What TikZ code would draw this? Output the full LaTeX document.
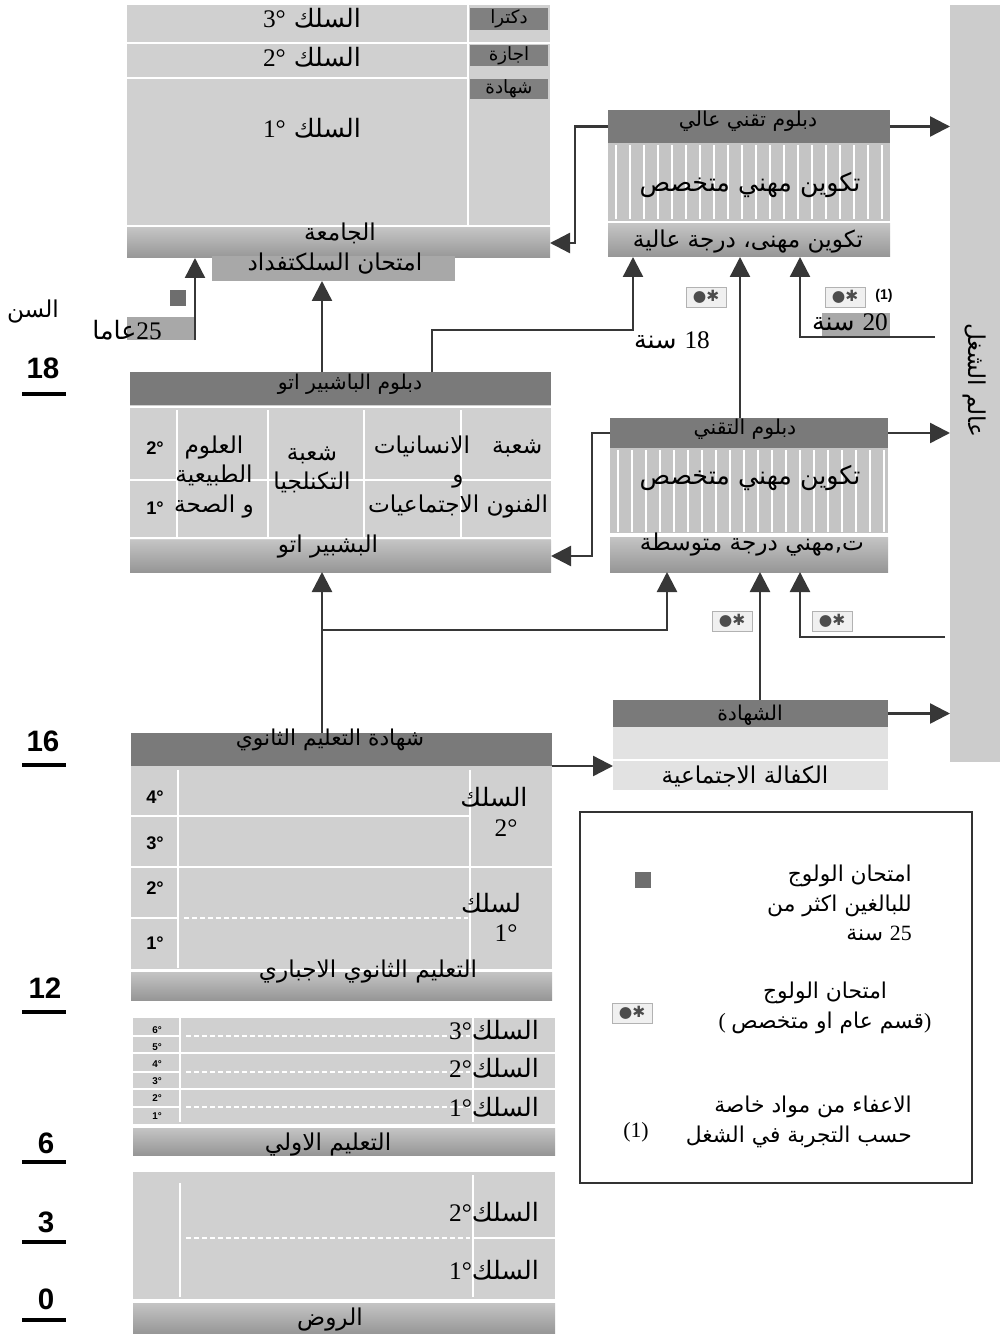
\documentclass[tikz,border=0pt]{standalone}
\usepackage{fontspec}
\setmainfont{Liberation Serif}
\newfontfamily\arabicfont[Script=Arabic]{DejaVu Sans}
\newfontfamily\agefont{Liberation Sans}
\newfontfamily\iconfont{DejaVu Sans}
\TeXXeTstate=1
\usetikzlibrary{positioning, fit, arrows.meta}
\usepackage{xcolor}

\definecolor{bodygray}{RGB}{208,208,208}
\definecolor{headgray}{RGB}{122,122,122}
\definecolor{taggray}{RGB}{128,128,128}
\definecolor{bandtop}{RGB}{196,196,196}
\definecolor{bandbot}{RGB}{150,150,150}
\definecolor{examgray}{RGB}{168,168,168}
\definecolor{stripegray}{RGB}{196,196,196}
\definecolor{workgray}{RGB}{204,204,204}
\definecolor{certgray}{RGB}{226,226,226}
\definecolor{linegray}{RGB}{55,55,55}
\definecolor{sqgray}{RGB}{110,110,110}

\newcommand{\ar}[1]{{\arabicfont\beginR #1\endR}}
\newcommand{\lat}[1]{\beginL{\rmfamily #1}\endL}

\begin{document}
\begin{tikzpicture}[
    x=0.25mm, y=-0.25mm,
    blk/.style={inner sep=0pt, outer sep=0pt},
    body/.style={blk, fill=bodygray},
    head/.style={blk, fill=headgray},
    band/.style={blk, top color=bandtop, bottom color=bandbot},
    tag/.style={blk, fill=taggray},
    smallbox/.style={blk, fill=examgray},
    sep/.style={white, line width=0.7mm},
    dsep/.style={white, line width=0.6mm, dash pattern=on 1.2mm off 0.8mm},
    stripe/.style={white, line width=0.45mm},
    conn/.style={draw=linegray, line width=0.6mm, -{Triangle[length=5mm, width=5mm]}},
    lbl/.style={font=\fontsize{16.5}{21}\selectfont, inner sep=0pt},
    biglbl/.style={font=\fontsize{18}{22}\selectfont, inner sep=0pt},
    leglbl/.style={font=\fontsize{15.5}{21}\selectfont, inner sep=0pt},
    hlbl/.style={font=\fontsize{14.5}{17}\selectfont, inner sep=0pt},
    taglbl/.style={font=\fontsize{13}{15}\selectfont, inner sep=0pt},
    deg/.style={font=\agefont\bfseries\fontsize{13}{15}\selectfont, inner sep=0pt},
    tinydeg/.style={font=\agefont\bfseries\fontsize{7}{8}\selectfont, inner sep=0pt},
    age/.style={font=\agefont\bfseries\fontsize{21}{24}\selectfont, inner sep=0pt},
    agebar/.style={line width=1mm},
    icon/.style={draw=gray!60, fill=gray!12, inner sep=1pt, minimum width=10mm, minimum height=5mm, font=\iconfont\fontsize{11}{12}\selectfont, text=black!70}
]
\useasboundingbox (0,0) rectangle (1004,1334);

% Age scale
\node[lbl] (agehdr) at (33,312) {\ar{السن}};
\node[age] (a18) at (43,368) {18};
\node[age] (a16) at (43,741) {16};
\node[age] (a12) at (45,988) {12};
\node[age] (a6) at (46,1143) {6};
\node[age] (a3) at (46,1222) {3};
\node[age] (a0) at (46,1299) {0};
\foreach \y in {394,765,1012,1162,1242,1320}
  \draw[agebar] (22,\y) -- (66,\y);

% University
\node[body, fit={(127,5) (550,226)}] (unibody) {};
\draw[sep] (127,43) -- (550,43);
\draw[sep] (127,78) -- (468,78);
\draw[sep] (468,5) -- (468,226);
\draw[sep] (127,226) -- (550,226);
\node[tag, fit={(470,8) (548,30)}] (doctag) {};
\node[tag, fit={(470,45) (548,66)}] (lictag) {};
\node[tag, fit={(470,79) (548,99)}] (certtag) {};
\node[taglbl] (doclbl) at (doctag) {\ar{دكترا}};
\node[taglbl] (liclbl) at (lictag) {\ar{اجازة}};
\node[taglbl] (certlbl) at (certtag) {\ar{شهادة}};
\node[biglbl] (u3) at (312,18) {\ar{السلك \lat{3°}}};
\node[biglbl] (u2) at (312,57) {\ar{السلك \lat{2°}}};
\node[biglbl] (u1) at (312,128) {\ar{السلك \lat{1°}}};
\node[band, fit={(127,228) (550,258)}] (uniband) {};
\node[smallbox, fit={(212,256) (455,281)}] (exambox) {};
\node[lbl] (unilbl) at (340,233) {\ar{الجامعة}};
\node[lbl] (examlbl) at (335,264) {\ar{امتحان السلكتفداد}};

% Adults over 25
\node[smallbox, fit={(127,317) (195,340)}] (box25) {};
\node[blk, fill=sqgray, minimum size=4mm] (sq25) at (178,298) {};
\node[biglbl] (lbl25) at (127,330) {\ar{\lat{25}عاما}};

% Higher technician
\node[head, fit={(608,110) (890,143)}] (hthead) {};
\node[blk, fill=stripegray, fit={(608,143) (890,221)}] (htbody) {};
\foreach \x in {616,630,...,882}
  \draw[stripe] (\x,145) -- (\x,219);
\draw[sep] (608,222) -- (890,222);
\node[band, fit={(608,224) (890,257)}] (htband) {};
\node[hlbl] (htlbl) at (748,121) {\ar{دبلوم تقني عالي}};
\node[biglbl] (htspec) at (750,185) {\ar{تكوين مهني متخصص}};
\node[lbl] (htlevel) at (748,242) {\ar{تكوين مهنى، درجة عالية}};

% Technician
\node[head, fit={(610,418) (888,448)}] (techhead) {};
\node[blk, fill=stripegray, fit={(610,448) (888,533)}] (techbody) {};
\foreach \x in {618,632,...,884}
  \draw[stripe] (\x,450) -- (\x,532);
\draw[sep] (610,535) -- (888,535);
\node[band, fit={(610,537) (888,572)}] (techband) {};
\node[hlbl] (techlbl) at (745,429) {\ar{دبلوم التقني}};
\node[biglbl] (techspec) at (750,478) {\ar{تكوين مهني متخصص}};
\node[lbl] (techlevel) at (752,545) {\ar{ت,مهني درجة متوسطة}};

% World of work
\node[blk, fill=workgray, fit={(950,5) (1000,762)}] (work) {};
\node[lbl, rotate=-90] (worklbl) at (975,380) {\ar{عالم الشغل}};

% Baccalaureate
\node[head, fit={(130,372) (551,405)}] (bachead) {};
\node[body, fit={(130,405) (551,540)}] (bacbody) {};
\draw[sep] (130,407) -- (551,407);
\draw[sep] (130,480) -- (551,480);
\foreach \x in {177,268,364,461}
  \draw[sep] (\x,410) -- (\x,538);
\draw[sep] (130,538) -- (551,538);
\node[band, fit={(130,540) (551,572)}] (bacband) {};
\node[hlbl] (baclbl) at (350,384) {\ar{دبلوم الباشبير اتو}};
\node[lbl] (bacbandlbl) at (328,547) {\ar{البشبير اتو}};
\node[deg] (b2) at (155,448) {2°};
\node[deg] (b1) at (155,508) {1°};
\node[lbl, align=center] (scistream) at (214,477) {\ar{العلوم}\\\ar{الطبيعية}\\\ar{و الصحة}};
\node[lbl, align=center] (techstream) at (312,470) {\ar{شعبة}\\\ar{التكنلجيا}};
\node[lbl, align=center] (artstream) at (458,477) {\ar{شعبة \ \ الانسانيات}\\\ar{و}\\\ar{الفنون الاجتماعيات}};

% Certificate
\node[head, fit={(613,700) (888,727)}] (certhead) {};
\node[blk, fill=certgray, fit={(613,727) (888,790)}] (certbody) {};
\draw[sep] (613,760) -- (888,760);
\node[hlbl] (certheadlbl) at (750,715) {\ar{الشهادة}};
\node[lbl] (certbodylbl) at (745,776) {\ar{الكفالة الاجتماعية}};

% Secondary
\node[head, fit={(131,733) (552,766)}] (sechead) {};
\node[body, fit={(131,766) (552,970)}] (secbody) {};
\draw[sep] (178,770) -- (178,968);
\draw[sep] (470,770) -- (470,968);
\draw[sep] (131,816) -- (470,816);
\draw[sep] (131,867) -- (552,867);
\draw[sep] (131,918) -- (178,918);
\draw[dsep] (184,918) -- (468,918);
\draw[sep] (131,970) -- (552,970);
\node[band, fit={(131,972) (552,1000)}] (secband) {};
\node[font=\fontsize{15.5}{18}\selectfont, inner sep=0pt] (seclbl) at (330,740) {\ar{شهادة التعليم الثانوي}};
\node[lbl] (secbandlbl) at (368,972) {\ar{التعليم الثانوي الاجباري}};
\node[deg] (s4) at (155,797) {4°};
\node[deg] (s3) at (155,843) {3°};
\node[deg] (s2) at (155,888) {2°};
\node[deg] (s1) at (155,943) {1°};
\node[biglbl] (sc2) at (494,797) {\ar{السلك}};
\node[biglbl] (sc2n) at (506,828) {2°};
\node[biglbl] (sc1) at (491,903) {\ar{لسلك}};
\node[biglbl] (sc1n) at (506,933) {1°};

% Primary
\node[body, fit={(133,1018) (555,1125)}] (primbody) {};
\draw[sep] (180,1018) -- (180,1122);
\draw[sep] (473,1018) -- (473,1122);
\foreach \y in {1053,1089}
  \draw[sep] (133,\y) -- (555,\y);
\foreach \y in {1036,1072,1107} {
  \draw[sep] (133,\y) -- (180,\y);
  \draw[dsep] (186,\y) -- (470,\y);
}
\draw[sep] (133,1125) -- (555,1125);
\node[band, fit={(133,1128) (555,1155)}] (primband) {};
\node[lbl] (primlbl) at (328,1145) {\ar{التعليم الاولي}};
\foreach \n/\y in {6/1030,5/1047,4/1064,3/1081,2/1098,1/1116}
  \node[tinydeg] (p\n) at (157,\y) {\n°};
\node[biglbl] (pc3) at (494,1030) {\ar{السلك\lat{3°}}};
\node[biglbl] (pc2) at (494,1068) {\ar{السلك\lat{2°}}};
\node[biglbl] (pc1) at (494,1107) {\ar{السلك\lat{1°}}};

% Kindergarten
\node[body, fit={(133,1172) (555,1300)}] (kgbody) {};
\draw[sep] (180,1183) -- (180,1297);
\draw[sep] (473,1175) -- (473,1297);
\draw[dsep] (186,1238) -- (470,1238);
\draw[sep] (473,1238) -- (555,1238);
\draw[sep] (133,1300) -- (555,1300);
\node[band, fit={(133,1303) (555,1334)}] (kgband) {};
\node[lbl] (kglbl) at (330,1320) {\ar{الروض}};
\node[biglbl] (kc2) at (494,1212) {\ar{السلك\lat{2°}}};
\node[biglbl] (kc1) at (494,1270) {\ar{السلك\lat{1°}}};

% Entry exams and ages
\node[icon] (ic1) at (706,297) {●✱};
\node[icon] (ic2) at (845,297) {●✱};
\node[deg, font=\agefont\bfseries\fontsize{10}{12}\selectfont] (ic2note) at (884,296) {(1)};
\node[smallbox, fit={(822,313) (890,338)}] (box20) {};
\node[biglbl] (lbl20) at (850,322) {\ar{\lat{20} سنة}};
\node[biglbl] (lbl18) at (672,340) {\ar{\lat{18} سنة}};
\node[icon] (ic3) at (732,621) {●✱};
\node[icon] (ic4) at (832,621) {●✱};

% Legend
\node[draw=black!80, line width=0.35mm, blk, fit={(580,812) (972,1183)}] (legend) {};
\node[blk, fill=sqgray, minimum size=4mm] (legsq) at (643,880) {};
\node[leglbl, align=right, anchor=east] (legsqtxt) at (912,903) {\ar{امتحان الولوج}\\\ar{للبالغين اكثر من}\\\ar{\lat{25} سنة}};
\node[icon] (legicon) at (632,1013) {●✱};
\node[leglbl, align=center] (legicontxt) at (825,1008) {\ar{امتحان الولوج}\\( \ar{قسم عام او متخصص})};
\node[leglbl] (legnote) at (636,1132) {(1)};
\node[leglbl, align=right, anchor=east] (legnotetxt) at (912,1122) {\ar{الاعفاء من مواد خاصة}\\\ar{حسب التجربة في الشغل}};

% Junctions
\coordinate (jht) at (575,200);
\coordinate (jtech) at (592,500);
\coordinate (colbac) at (322,0);
\coordinate (j18a) at (432,330);
\coordinate (j18b) at (633,330);
\coordinate (col740) at (740,0);
\coordinate (w20) at (935,337);
\coordinate (j20) at (800,337);
\coordinate (jsec) at (322,630);
\coordinate (jsecb) at (667,630);
\coordinate (col760) at (760,0);
\coordinate (w637) at (945,637);
\coordinate (j637) at (800,637);

% Edges
\draw[conn] (hthead.west) -- (hthead.west -| jht) |- (uniband.east);
\draw[conn] (hthead.east) -- (hthead.east -| work.west);
\draw[conn] (bachead.north -| j18a) -- (j18a) -- (j18b) -- (htband.south -| j18b);
\draw[conn] (techhead.north -| col740) -- (htband.south -| col740);
\draw[conn] (w20) -- (j20) -- (htband.south -| j20);
\draw[conn] (bachead.north -| colbac) -- (exambox.south -| colbac);
\draw[conn] (box25.south east) -- (box25.south east |- uniband.south);
\draw[conn] (techhead.west) -- (techhead.west -| jtech) |- (bacband.east);
\draw[conn] (techhead.east) -- (techhead.east -| work.west);
\draw[conn] (sechead.north -| colbac) -- (bacband.south -| colbac);
\draw[conn] (jsec) -- (jsecb) -- (techband.south -| jsecb);
\draw[conn] (certhead.north -| col760) -- (techband.south -| col760);
\draw[conn] (w637) -- (j637) -- (techband.south -| j637);
\draw[conn] (certhead.east) -- (certhead.east -| work.west);
\draw[conn] (sechead.south east) -- (sechead.south east -| certbody.west);

\end{tikzpicture}
\end{document}
